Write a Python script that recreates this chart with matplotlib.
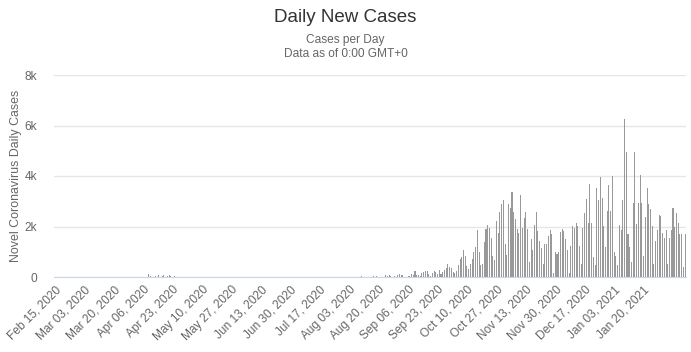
import matplotlib
matplotlib.use("Agg")
from matplotlib import pyplot as plt
import numpy as np
import pandas as pd

plt.rcParams['font.family'] = ['Liberation Sans', 'DejaVu Sans']

# daily values, day 0 = Feb 15, 2020
n_days = 365
start = "2020-02-15"

early = {54: 120, 55: 30, 58: 20, 60: 60, 62: 30, 63: 70, 65: 40, 66: 60, 67: 20, 69: 40,
         177: 40, 184: 40, 186: 40, 191: 80, 192: 50, 193: 90, 194: 50, 196: 40,
         198: 70, 199: 100, 200: 80, 201: 60, 204: 50}

# from Feb 15 + 205 days onward
late = [30, 100, 90, 230, 80, 70, 30, 160, 200, 240,
        240, 100, 40, 160, 240, 200, 100, 270, 130, 200,
        270, 370, 500, 400, 370, 200, 150, 240, 470, 730,
        800, 1070, 830, 430, 320, 530, 700, 1000, 1170, 1870,
        1000, 470, 500, 1400, 1920, 2050, 1960, 1560, 850, 690,
        2200, 1730, 2560, 2890, 3050, 1290, 890, 2890, 2750, 3360,
        2590, 2290, 1890, 1730, 3230, 1960, 2320, 2560, 1890, 590,
        1520, 1070, 2050, 2560, 1830, 1430, 1160, 500, 1290, 1290,
        1630, 1850, 1700, 160, 1000, 930, 1000, 1790, 1890, 1830,
        1490, 1060, 160, 1220, 2020, 1930, 2120, 2020, 1220, 500,
        1930, 2550, 3080, 2120, 3690, 2120, 800, 465, 3520, 3030,
        3960, 3120, 2020, 1200, 2630, 3650, 2630, 4010, 1000, 820,
        465, 2060, 1860, 3030, 6270, 4940, 1700, 1200, 600, 2950,
        4940, 2100, 2950, 4050, 2950, 820, 2390, 3520, 2890, 2680,
        2020, 500, 1430, 1860, 2450, 2420, 1750, 1530, 1860, 500,
        1530, 1860, 2720, 1970, 2520, 2120, 1700, 1700, 400, 1700]

cases = np.zeros(n_days)
for k, v in early.items():
    cases[k] = v
cases[205:205 + len(late)] = late

dates = pd.date_range(start, periods=n_days, freq="D")
tick_idx = list(range(0, 341, 17))
tick_labels = [dates[i].strftime("%b %d, %Y") for i in tick_idx]

fig = plt.figure(figsize=(6.91, 3.52), dpi=100)
ax = fig.add_axes([54 / 691, 1 - 277 / 352, 632 / 691, 202 / 352])

x = np.arange(n_days)
ax.bar(x, cases, width=0.6, color="#999999", linewidth=0)

ax.set_xlim(-0.5, n_days - 0.5)
ax.set_ylim(0, 8000)
ax.set_yticks([0, 2000, 4000, 6000, 8000])
ax.set_yticklabels(["0", "2k", "4k", "6k", "8k"])
ax.set_xticks(tick_idx)
ax.set_xticklabels(tick_labels, rotation=45, ha="right", rotation_mode="anchor")

ax.grid(axis="y", color="#e6e6e6", linewidth=1)
ax.set_axisbelow(True)
for s in ["top", "right", "left"]:
    ax.spines[s].set_visible(False)
ax.spines["bottom"].set_color("#ccd6eb")
ax.tick_params(axis="both", length=0, labelsize=8.6, labelcolor="#666666")
ax.tick_params(axis="x", pad=5)
ax.tick_params(axis="y", pad=12)

ax.set_ylabel("Novel Coronavirus Daily Cases", fontsize=8.9, color="#666666", labelpad=2)

fig.text(0.5, 1 - 17 / 352, "Daily New Cases", ha="center", va="center", fontsize=13.5, color="#333333")
fig.text(0.5, 1 - 40 / 352, "Cases per Day", ha="center", va="center", fontsize=8.6, color="#666666")
fig.text(0.5, 1 - 54 / 352, "Data as of 0:00 GMT+0", ha="center", va="center", fontsize=8.6, color="#666666")

fig.savefig("out.png", dpi=100)
